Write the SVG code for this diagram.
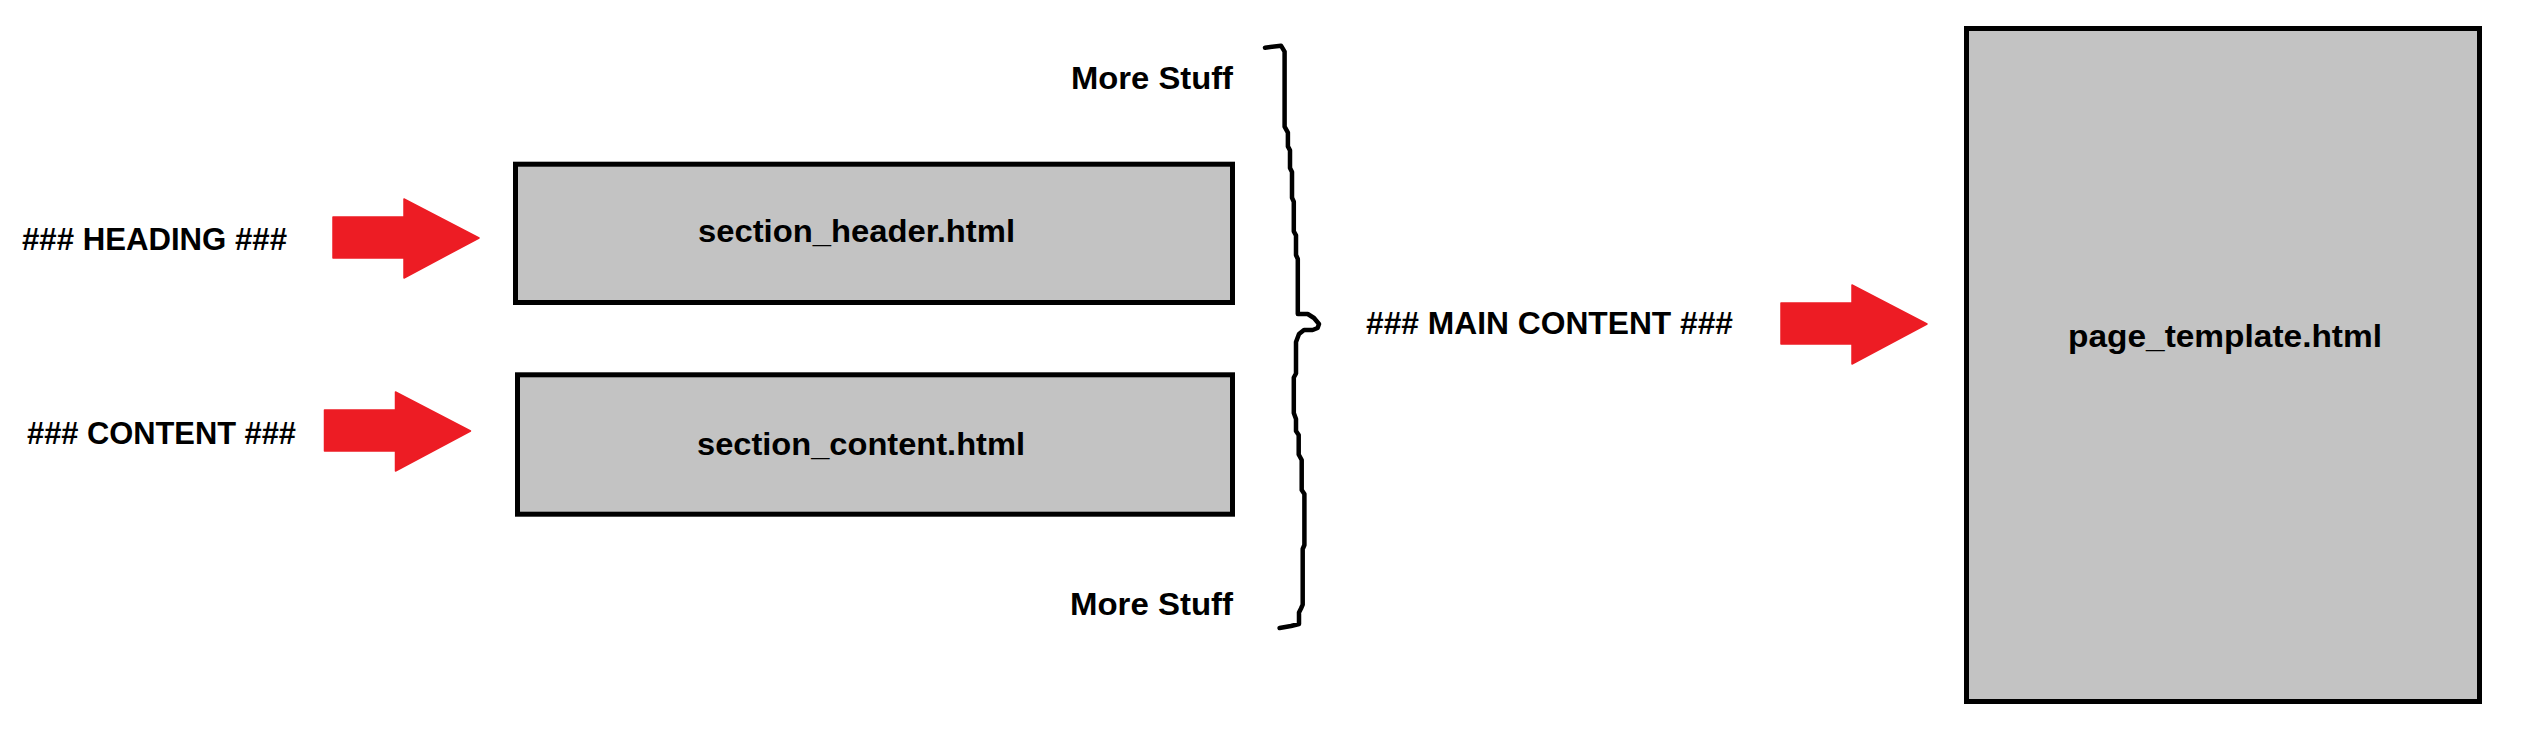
<svg xmlns="http://www.w3.org/2000/svg" width="2522" height="750" viewBox="0 0 2522 750">
  <style>
    .box { fill: #C3C3C3; stroke: #000000; stroke-width: 5; }
    .t { font-family: "Liberation Sans", Arial, sans-serif; font-weight: bold; font-size: 32px; fill: #000000; }
    .arrow { fill: #ED1C24; stroke: #ED1C24; stroke-width: 1.5; stroke-linejoin: round; }
    .brace { fill: none; stroke: #000000; stroke-width: 4.5; stroke-linejoin: round; stroke-linecap: round; }
  </style>
  <defs>
    <path id="arrowShape" d="M0,18 L71,18 L71,0 L146,39 L71,79 L71,59 L0,59 Z"/>
  </defs>
  <rect width="2522" height="750" fill="#FFFFFF"/>

  <g id="label-heading">
    <text class="t" x="22" y="250" textLength="265" lengthAdjust="spacingAndGlyphs">### HEADING ###</text>
  </g>
  <g id="label-content">
    <text class="t" x="27" y="443.5" textLength="269" lengthAdjust="spacingAndGlyphs">### CONTENT ###</text>
  </g>
  <g id="section-header">
    <rect class="box" x="515.5" y="164.2" width="717" height="138.3"/>
    <text class="t" x="698" y="241.5" textLength="317" lengthAdjust="spacingAndGlyphs">section_header.html</text>
  </g>
  <g id="section-content">
    <rect class="box" x="517.5" y="374.8" width="715" height="139.4"/>
    <text class="t" x="697" y="455" textLength="328" lengthAdjust="spacingAndGlyphs">section_content.html</text>
  </g>
  <g id="more-stuff-top">
    <text class="t" x="1071" y="89" textLength="162" lengthAdjust="spacingAndGlyphs">More Stuff</text>
  </g>
  <g id="more-stuff-bottom">
    <text class="t" x="1070" y="615" textLength="163" lengthAdjust="spacingAndGlyphs">More Stuff</text>
  </g>
  <g id="label-main-content">
    <text class="t" x="1366" y="334" textLength="367" lengthAdjust="spacingAndGlyphs">### MAIN CONTENT ###</text>
  </g>
  <g id="page-template">
    <rect class="box" x="1966.5" y="28.5" width="513" height="673"/>
    <text class="t" x="2068" y="346.5" textLength="314" lengthAdjust="spacingAndGlyphs">page_template.html</text>
  </g>

  <g id="connectors">
    <use href="#arrowShape" class="arrow" x="333" y="199"/>
    <use href="#arrowShape" class="arrow" x="324.5" y="392"/>
    <use href="#arrowShape" class="arrow" x="1781" y="285"/>
    <polyline class="brace" points="1265,47.7 1281,45.7 1284.6,51.6 1284.6,126.7 1287.9,132.6 1287.9,146.4 1290,150.4 1290,168 1292,172 1292,197.8 1293.8,201.7 1293.8,231.3 1296,235.3 1296,255 1297.8,259 1297.8,314 1307.7,314 1314,318 1319,324 1317.6,328 1312.6,330 1304,330 1299,334 1296,342 1296,373.5 1293.8,377.5 1293.8,413 1296,419 1296,431 1298.7,435 1298.7,454.5 1301.7,460 1301.7,490 1304.4,494 1304.4,545 1302.7,549 1302.7,604.6 1301,608.5 1299,612.5 1299,624 1291,626 1279.6,628"/>
  </g>
</svg>
